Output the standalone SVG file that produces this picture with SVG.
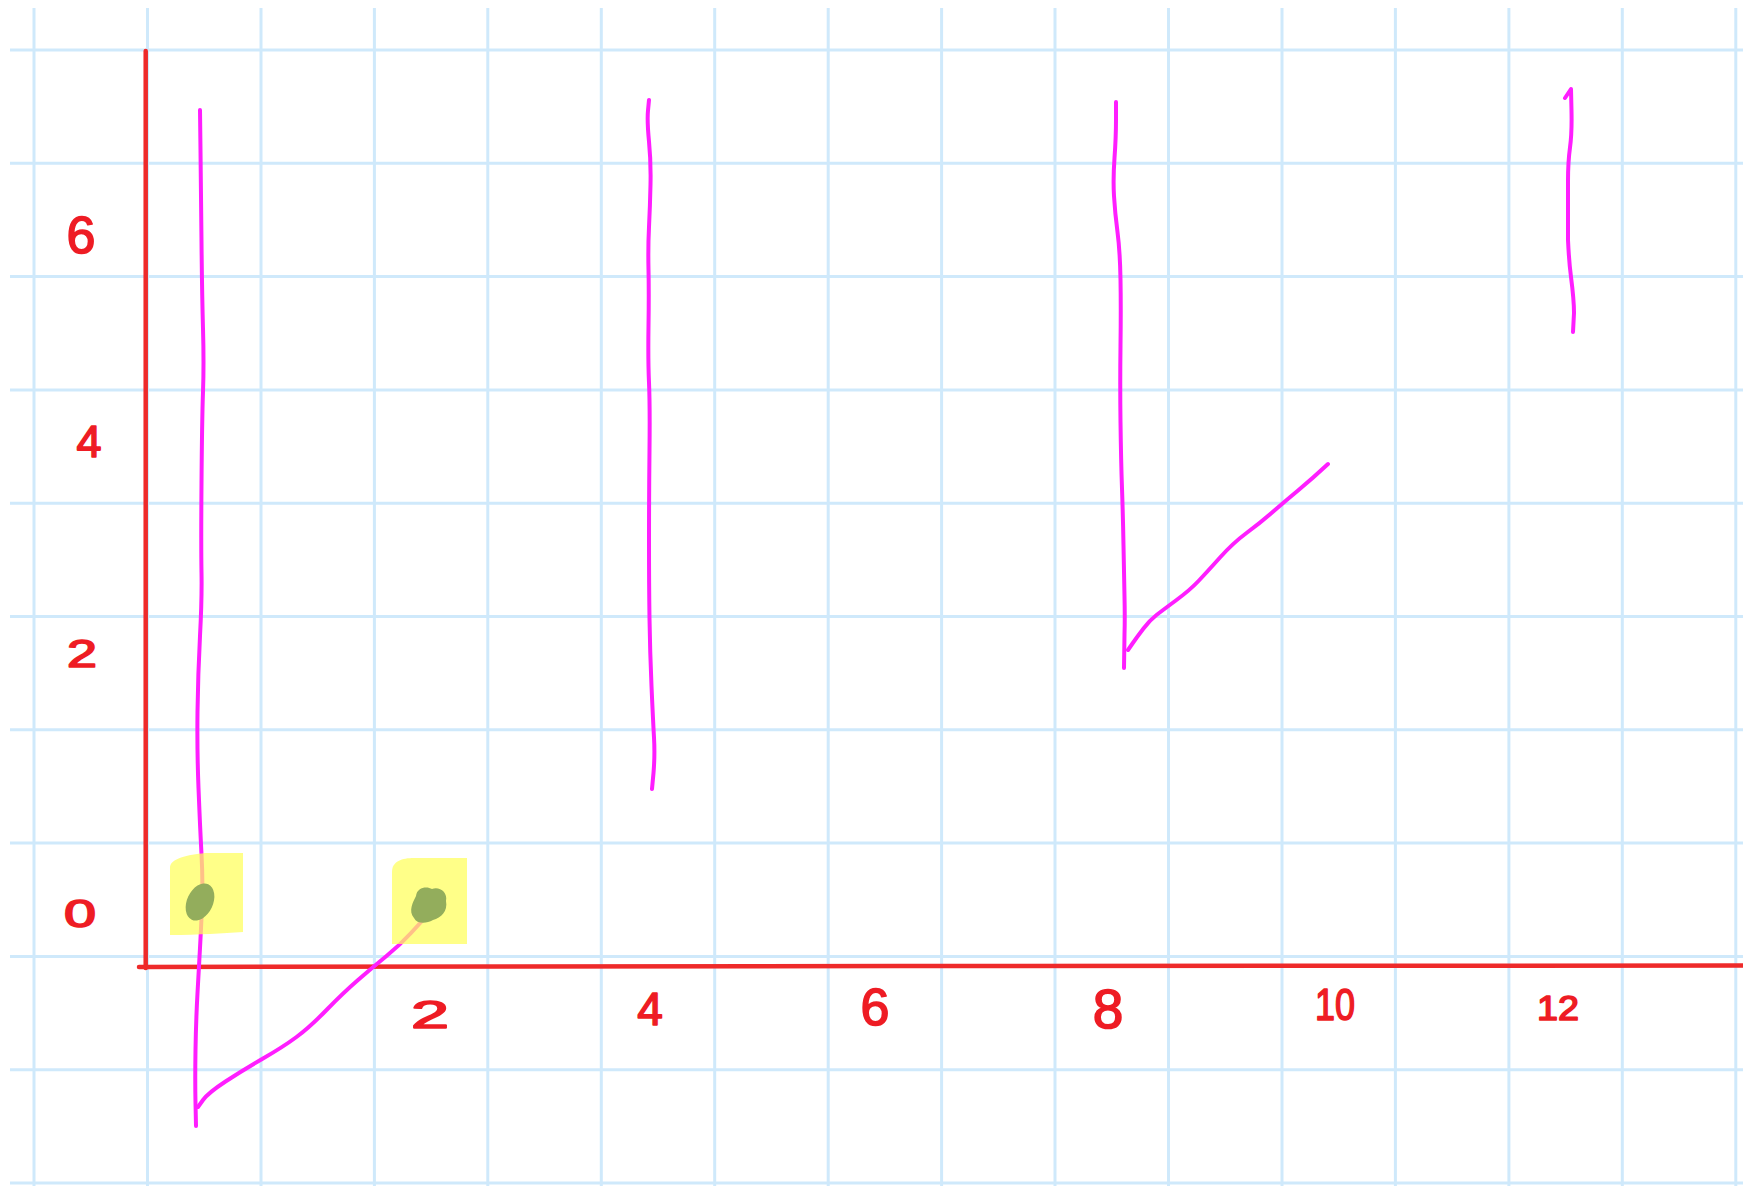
<svg xmlns="http://www.w3.org/2000/svg" width="1743" height="1186" viewBox="0 0 1743 1186">
<style>
.grid line{stroke:#cfe9fb;stroke-width:3}
.axis{stroke:#ee2a2a;stroke-width:4.5;fill:none;stroke-linecap:round}
.ink{stroke:#ff1eff;stroke-width:4;fill:none;stroke-linecap:round;stroke-linejoin:round}
.hl{fill:#ffff5a;fill-opacity:0.72}
.dot{fill:#93ad5c}
.num{font-family:"Liberation Sans",Arial,sans-serif;fill:#ee1c24;stroke:#ee1c24;stroke-width:1.6;stroke-linejoin:round;text-anchor:middle}
</style>
<rect width="1743" height="1186" fill="#ffffff"/>
<g id="grid" class="grid">
<line x1="34" y1="8" x2="34" y2="1186"/>
<line x1="147.5" y1="8" x2="147.5" y2="1186"/>
<line x1="261" y1="8" x2="261" y2="1186"/>
<line x1="374.4" y1="8" x2="374.4" y2="1186"/>
<line x1="487.8" y1="8" x2="487.8" y2="1186"/>
<line x1="601.3" y1="8" x2="601.3" y2="1186"/>
<line x1="714.7" y1="8" x2="714.7" y2="1186"/>
<line x1="828.2" y1="8" x2="828.2" y2="1186"/>
<line x1="941.6" y1="8" x2="941.6" y2="1186"/>
<line x1="1055" y1="8" x2="1055" y2="1186"/>
<line x1="1168.5" y1="8" x2="1168.5" y2="1186"/>
<line x1="1282" y1="8" x2="1282" y2="1186"/>
<line x1="1395.4" y1="8" x2="1395.4" y2="1186"/>
<line x1="1508.9" y1="8" x2="1508.9" y2="1186"/>
<line x1="1622.3" y1="8" x2="1622.3" y2="1186"/>
<line x1="1735.8" y1="8" x2="1735.8" y2="1186"/>
<line x1="10" y1="50" x2="1743" y2="50"/>
<line x1="10" y1="163.3" x2="1743" y2="163.3"/>
<line x1="10" y1="276.6" x2="1743" y2="276.6"/>
<line x1="10" y1="389.9" x2="1743" y2="389.9"/>
<line x1="10" y1="503.2" x2="1743" y2="503.2"/>
<line x1="10" y1="616.5" x2="1743" y2="616.5"/>
<line x1="10" y1="729.8" x2="1743" y2="729.8"/>
<line x1="10" y1="843.1" x2="1743" y2="843.1"/>
<line x1="10" y1="956.4" x2="1743" y2="956.4"/>
<line x1="10" y1="1069.7" x2="1743" y2="1069.7"/>
<line x1="10" y1="1183" x2="1743" y2="1183"/>
</g>
<g id="axes">
<path class="axis" d="M145.7,51 L145.7,968"/>
<path class="axis" d="M139,967 L900,966 L1743,965.5"/>
</g>
<g id="ink">
<path class="ink" d="M200,110 L200.5,150.5 Q201,191 201.5,242 Q202,293 203,328.5 Q204,364 203,392 Q202,420 201.5,483.5 Q201,547 201.5,572.5 Q202,598 200,636 Q198,674 197.5,712 Q197,750 198.5,788 Q200,826 201.5,854 Q203,882 202,906 Q201,930 200,948 Q199,966 197.5,993 Q196,1020 195.5,1050 Q195,1080 195.5,1103 L196,1126"/>
<path class="ink" d="M198,1107 L203,1100 Q208,1093 225.5,1081.5 Q243,1070 263,1058.5 Q283,1047 296.5,1037 Q310,1027 326.5,1010 Q343,993 358,980 Q373,967 386.5,956 Q400,945 411,933 L422,921"/>
<path class="ink" d="M649,100 L648,110.5 Q647,121 649,141.5 Q651,162 650.5,184.5 Q650,207 649,227 Q648,247 648.5,269.5 Q649,292 648.5,326 Q648,360 649,382.5 Q650,405 649.5,450 Q649,495 649,540 Q649,585 649.5,618.5 Q650,652 651.5,686 Q653,720 654,737.5 Q655,755 653.5,773 L652,789"/>
<path class="ink" d="M1116,102 L1116,119.5 Q1116,137 1114.5,158 Q1113,179 1114,196 Q1115,213 1117.5,232 Q1120,251 1120.5,279.5 Q1121,308 1120.5,346 Q1120,384 1120.5,422 Q1121,460 1122,488.5 Q1123,517 1123.5,545.5 Q1124,574 1124.5,596.5 Q1125,619 1124.5,634.5 L1124,668"/>
<path class="ink" d="M1128,650 L1132.5,643.5 Q1137,637 1143.5,628.5 Q1150,620 1156.5,615 Q1163,610 1176.5,600 Q1190,590 1198.5,581 Q1207,572 1220,557.5 Q1233,543 1246.5,533 Q1260,523 1271.5,513 Q1283,503 1298,490.5 Q1313,478 1328,464"/>
<path class="ink" d="M1565,98 L1571,89 L1571.5,111 Q1572,133 1570,147.5 Q1568,162 1568,181 L1568,240 Q1569,262 1571,277 Q1574,300 1574,313 L1573,332"/>
</g>
<g id="highlights">
<path class="hl" d="M170,868 C170,858 188,855 205,853 L243,853 L243,932 C222,933 200,935 170,935 Z"/>
<path class="hl" d="M392,872 C392,861 402,858 414,858 L467,858 L467,944 L392,944 Z"/>
</g>
<g id="points">
<ellipse class="dot" cx="200" cy="902" rx="13" ry="19.5" transform="rotate(25 200 902)"/>
<path class="dot" d="M414,918 C408,911 413,902 416,896 C417,887 427,886 432,889 C439,886 448,892 446,901 C448,911 441,918 433,920 C426,924 417,924 414,918 Z"/>
</g>
<g id="labels">
<text class="num" x="81" y="253" font-size="52">6</text>
<text class="num" x="89" y="457" font-size="45">4</text>
<text class="num" x="82" y="667" font-size="38" textLength="30" lengthAdjust="spacingAndGlyphs">2</text>
<text class="num" x="80" y="927" font-size="38" textLength="32" lengthAdjust="spacingAndGlyphs">0</text>
<text class="num" x="430" y="1028" font-size="39" textLength="38" lengthAdjust="spacingAndGlyphs">2</text>
<text class="num" x="650" y="1025" font-size="46">4</text>
<text class="num" x="875" y="1025" font-size="52">6</text>
<text class="num" x="1108" y="1028" font-size="55">8</text>
<text class="num" x="1335" y="1020" font-size="44" textLength="40" lengthAdjust="spacingAndGlyphs">10</text>
<text class="num" x="1558" y="1020" font-size="35" textLength="42" lengthAdjust="spacingAndGlyphs">12</text>
</g>
</svg>
